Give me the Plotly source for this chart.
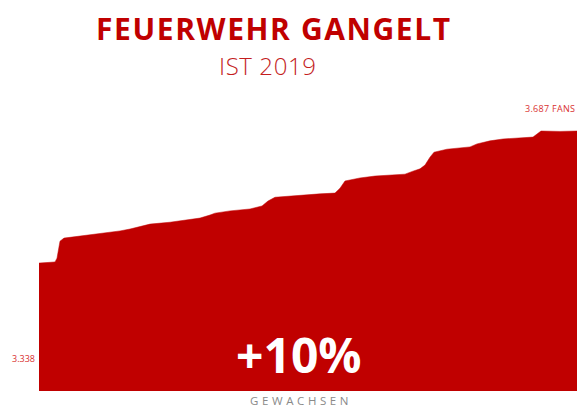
import plotly.graph_objects as go

# Approximate daily progression of fan count
days = [0, 16, 18, 21, 25, 41, 61, 81, 91, 111, 131, 146, 161, 171, 176, 191, 211, 223, 229, 236,
        261, 281, 296, 301, 306, 321, 336, 351, 366, 374, 381, 386, 391, 395, 408, 431, 438, 451,
        464, 494, 499, 502, 521, 538]
fans = [3338, 3341, 3351, 3396, 3404, 3409, 3417, 3423, 3428, 3441, 3446, 3452, 3457, 3465, 3470,
        3476, 3481, 3489, 3502, 3512, 3518, 3521, 3523, 3536, 3555, 3563, 3568, 3571, 3573, 3581,
        3587, 3597, 3618, 3631, 3639, 3645, 3653, 3661, 3666, 3671, 3682, 3687, 3686, 3687]

title = "FEUERWEHR GANGELT"
subtitle = "IST 2019"
start_label = "3.338"
end_label = "3.687 FANS"
growth_label = "+10%"
growth_caption = "GEWACHSEN"

RED = "#C00000"


def spaced(t, px):
    return f'<span style="letter-spacing:{px}px">{t}</span>'


fig = go.Figure()
fig.add_trace(go.Scatter(
    x=days, y=fans, mode="lines", fill="tozeroy",
    line=dict(color=RED, width=0.5), fillcolor=RED, hoverinfo="skip",
))

fig.update_layout(
    width=578, height=419,
    margin=dict(l=39, r=1, t=100, b=28),
    paper_bgcolor="white", plot_bgcolor="white",
    showlegend=False,
    xaxis=dict(visible=False, range=[0, 538]),
    yaxis=dict(visible=False, range=[3000, 3769]),
    annotations=[
        dict(text=spaced(title, 1.6), xref="paper", yref="paper", x=0.436, y=1.247, showarrow=False,
             xanchor="center", yanchor="middle",
             font=dict(family="Open Sans", size=30, color=RED, weight="bold")),
        dict(text=spaced(subtitle, 0.6), xref="paper", yref="paper", x=0.4257, y=1.120, showarrow=False,
             xanchor="center", yanchor="middle",
             font=dict(family="Open Sans", size=24, color="#C41E1E", weight=300)),
        dict(text=spaced(end_label, 0.3), xref="paper", yref="paper", x=1.0, y=0.9725, showarrow=False,
             xanchor="right", yanchor="middle",
             font=dict(family="Open Sans", size=9, color="#D93030")),
        dict(text=start_label, xref="paper", yref="paper", x=-0.004, y=0.113, showarrow=False,
             xanchor="right", yanchor="middle",
             font=dict(family="Open Sans", size=9, color="#D93030")),
        dict(text=growth_label, xref="paper", yref="paper", x=0.483, y=0.124, showarrow=False,
             xanchor="center", yanchor="middle",
             font=dict(family="Open Sans", size=48, color="white", weight="bold")),
        dict(text=spaced(growth_caption, 3.6), xref="paper", yref="paper", x=0.487, y=-0.031, showarrow=False,
             xanchor="center", yanchor="middle",
             font=dict(family="Open Sans", size=11.5, color="#8a8a8a")),
    ],
)

fig.write_html("out.html", config={"displayModeBar": False},
               post_script="document.body.style.margin='0px';")
